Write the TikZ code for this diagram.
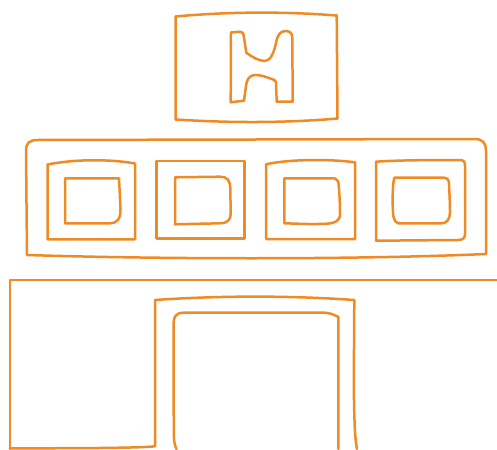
\documentclass[tikz,border=0pt]{standalone}
\definecolor{sk}{RGB}{239,139,38}
\begin{document}
\begin{tikzpicture}[x=1pt,y=-1pt,sketch/.style={draw=sk,line width=2.5pt,line join=round,line cap=round}]
\useasboundingbox (0,0) rectangle (497,449);
% top box
\path[sketch] (175.5,16.5) .. controls (230,11.5) and (285,11.5) .. (336.7,15.5) -- (337.5,118.5) .. controls (285,123) and (230,123) .. (175.5,119.5) -- cycle;
% H glyph
\path[sketch] (231,32.5) -- (240,31.7) .. controls (242,31.8) and (243.3,33) .. (243.6,35) -- (246.3,52.7)
  .. controls (252,57) and (259,61) .. (265,61) .. controls (271,60.5) and (274,52) .. (276,43)
  .. controls (277.5,35) and (280,31.5) .. (285,31) .. controls (290,31) and (292.3,33) .. (292.3,38)
  -- (292.7,101.7) -- (276.7,101.7) -- (276,82) .. controls (275.5,80) and (273,79.2) .. (271.7,79)
  .. controls (266,77) and (260,74.5) .. (254,75) .. controls (249,76) and (246.5,80) .. (246,86)
  -- (244,100.7) -- (230.7,102.3) -- cycle;
% middle panel
\path[sketch] (26,151) .. controls (26,143) and (29,140) .. (38,140) -- (474,139) .. controls (482,139) and (486,142) .. (486,151) -- (486,254) .. controls (350,260) and (150,259) .. (27,255) -- cycle;
% box 1
\path[sketch] (47.5,164.5) .. controls (75,159) and (110,159) .. (135,163.5) -- (135,239.3) -- (47.5,239.3) -- cycle;
\path[sketch] (65,178.3) -- (119,178.3) -- (120.5,208) .. controls (121,219) and (117,223.3) .. (110,223.3) -- (65,223.3) -- cycle;
% box 2
\path[sketch] (156.7,161) rectangle (244.3,238.3);
\path[sketch] (175,177.3) -- (220,176.7) .. controls (227,176.7) and (230,180) .. (230.3,188) -- (230.7,214) .. controls (230.7,220) and (227,223.3) .. (220,223.3) -- (175,224.3) -- cycle;
% box 3
\path[sketch] (266,164.3) .. controls (290,159) and (330,159) .. (355,162.3) -- (355,239) -- (266,239) -- cycle;
\path[sketch] (284.3,178.3) -- (335,178.3) -- (338.3,181.7) .. controls (339.5,192) and (340,205) .. (340,214) .. controls (340,221) and (335,223.3) .. (325,223.8) .. controls (310,224.5) and (295,223.5) .. (284.3,223.3) -- cycle;
% box 4
\path[sketch] (376,161.7) .. controls (400,160) and (440,160) .. (460,160) .. controls (464,160) and (465,162) .. (465,166) -- (465,234) .. controls (465,238) and (463,240) .. (458,240) -- (376,240.7) -- cycle;
\path[sketch] (394.3,177.7) -- (444,177.7) .. controls (447.5,178) and (449,180) .. (449,184) .. controls (449.5,195) and (450,203) .. (450,212) .. controls (450,219) and (447,223.3) .. (441.7,223.3) -- (398.3,223.3) .. controls (393,222) and (393,215) .. (392.7,205) .. controls (392.5,192) and (393,183) .. (394.3,177.7);
% bottom panel
\path[sketch] (497,280) -- (9.8,280) -- (9.8,449);
\path[sketch] (9.8,448.3) .. controls (100,448.3) and (140,447.8) .. (155,446.3) -- (155,300) .. controls (220,295.5) and (290,295.5) .. (354.3,300) -- (353.8,380) .. controls (354,420) and (355,440) .. (357,449);
\path[sketch] (338.3,449) -- (338.3,316.8) .. controls (334,315) and (330,312.7) .. (324,312.7) -- (184,312.7) .. controls (176,312.7) and (173.5,316) .. (173.5,326) -- (173.8,436) .. controls (174,442) and (175,446) .. (176.5,449);
\end{tikzpicture}
\end{document}
